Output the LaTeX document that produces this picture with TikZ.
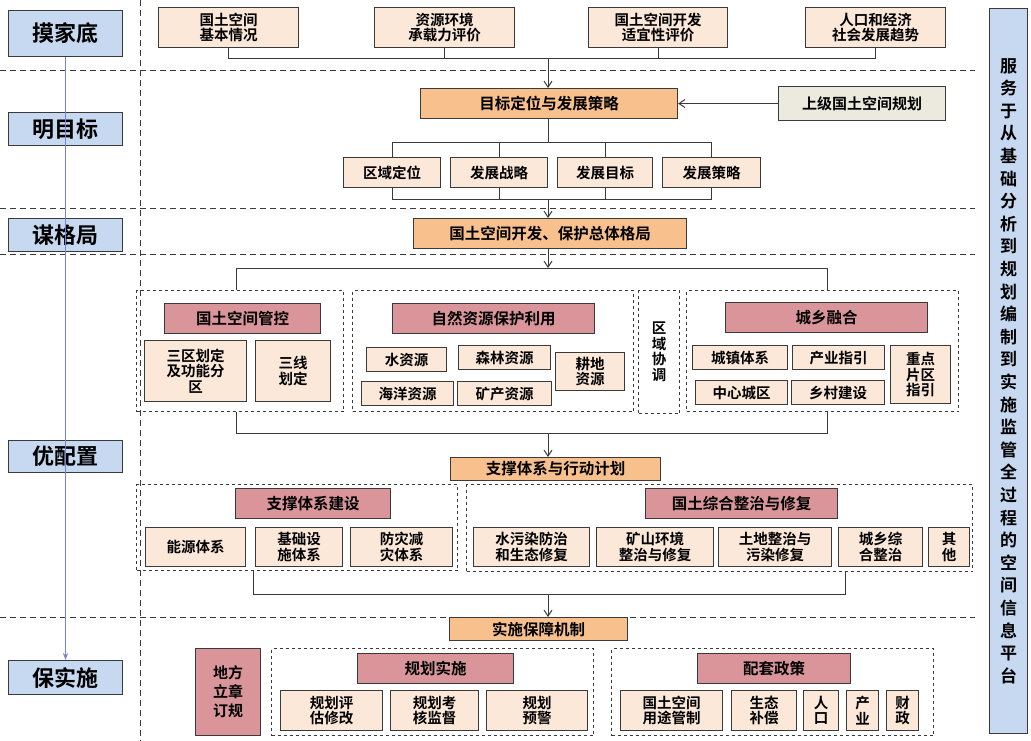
\documentclass[tikz,border=0pt]{standalone}
\usepackage{fontspec}
\setmainfont{Noto Sans CJK SC}[BoldFont={Noto Sans CJK SC Bold}]
\usetikzlibrary{arrows.meta}
\definecolor{lblue}{HTML}{C6D9F1}
\definecolor{cream}{HTML}{FCE8D8}
\definecolor{orng}{HTML}{F8C08C}
\definecolor{pink}{HTML}{D9959A}
\definecolor{grayg}{HTML}{ECEADF}
\definecolor{edge}{HTML}{3A3A3A}
\newcommand\bx[7]{\node[#1,anchor=north west,minimum width={(#5-#3)*1pt},minimum height={(#6-#4)*1pt}] (#2) at (#3,#4) {#7};}
\begin{document}
\begin{tikzpicture}[x=1pt,y=-1pt,
  base/.style={draw=edge,line width=1.1pt,inner sep=0pt,align=center,font=\fontsize{14.5}{15.5}\selectfont\bfseries},
  lbl/.style={base,fill=lblue,font=\fontsize{22}{24}\selectfont\bfseries},
  cr/.style={base,fill=cream},
  og/.style={base,fill=orng,font=\fontsize{15.5}{16}\selectfont\bfseries},
  pk/.style={base,fill=pink,font=\fontsize{15.5}{16}\selectfont\bfseries},
  grp/.style={draw=edge,dashed,line width=1pt,inner sep=0pt},
  sep/.style={draw=edge,dash pattern=on 6pt off 4pt,line width=1pt},
  ln/.style={draw=edge,line width=1pt},
  arr/.style={ln,-{Straight Barb[length=6pt,width=8pt]}}]
\useasboundingbox (0,0) rectangle (1031,741);
\fill[white] (0,0) rectangle (1031,741);
% separators
\draw[sep] (140,0) -- (140,741);
\foreach \yy in {71,208,254,617} \draw[sep] (0,\yy) -- (975,\yy);
% left labels
\bx{lbl}{L1}{8}{10}{122}{56}{摸家底}
\bx{lbl}{L2}{8}{112}{122}{145}{明目标}
\bx{lbl}{L3}{8}{218}{122}{251}{谋格局}
\bx{lbl}{L4}{8}{440}{122}{472}{优配置}
\bx{lbl}{L5}{8}{660}{122}{694}{保实施}
\draw[draw=lblue!60!blue!70!gray,line width=1.2pt,-{Stealth[length=7pt]}] (L1.south) -- (L5.north);
% right box
\bx{lbl,font=\fontsize{17}{22.6}\selectfont\bfseries}{R}{989}{8}{1027}{733}{服\\务\\于\\从\\基\\础\\分\\析\\到\\规\\划\\编\\制\\到\\实\\施\\监\\管\\全\\过\\程\\的\\空\\间\\信\\息\\平\\台}
% top row
\bx{cr}{t1}{158}{7}{298}{47}{国土空间\\基本情况}
\bx{cr}{t2}{374}{7}{514}{47}{资源环境\\承载力评价}
\bx{cr}{t3}{588}{7}{727}{47}{国土空间开发\\适宜性评价}
\bx{cr}{t4}{805}{7}{945}{47}{人口和经济\\社会发展趋势}
\bx{og}{goal}{420}{88}{677}{118}{目标定位与发展策略}
\bx{base,fill=grayg,font=\fontsize{15}{16}\selectfont\bfseries}{up}{778}{86}{945}{120}{上级国土空间规划}
\coordinate (b1) at (548,59);
\draw[ln] (t1.south) |- (t4.south |- b1) -- (t4.south);
\draw[ln] (t2.south) -- (t2.south |- b1);
\draw[ln] (t3.south) -- (t3.south |- b1);
\draw[arr] (b1) -- (goal.north -| b1);
\draw[arr] (up.west) -- (goal.east);
% strategy row
\bx{cr}{s1}{343}{157}{440}{187}{区域定位}
\bx{cr}{s2}{450}{157}{547}{187}{发展战略}
\bx{cr}{s3}{557}{157}{652}{187}{发展目标}
\bx{cr}{s4}{662}{157}{760}{187}{发展策略}
\coordinate (b2) at (548,143);
\coordinate (b3) at (548,199);
\draw[ln] (goal.south -| b2) -- (b2);
\draw[ln] (s1.north) |- (s4.north |- b2) -- (s4.north);
\draw[ln] (s2.north) -- (s2.north |- b2);
\draw[ln] (s3.north) -- (s3.north |- b2);
\draw[ln] (s1.south) |- (s4.south |- b3) -- (s4.south);
\draw[ln] (s2.south) -- (s2.south |- b3);
\draw[ln] (s3.south) -- (s3.south |- b3);
\bx{og}{lay}{413}{218}{686}{248}{国土空间开发、保护总体格局}
\draw[arr] (b3) -- (lay.north -| b3);
% groups row 1
\bx{grp}{G1}{136}{290}{343}{411}{}
\bx{grp}{G2}{352}{290}{633}{411}{}
\bx{grp,base,dashed,line width=1pt}{G3}{638}{290}{679}{413}{区\\域\\协\\调}
\bx{grp}{G4}{686}{290}{958}{411}{}
\bx{pk}{h1}{164}{303}{320}{333}{国土空间管控}
\bx{cr}{a1}{144}{340}{246}{401}{三区划定\\及功能分\\区}
\bx{cr}{a2}{255}{340}{330}{401}{三线\\划定}
\bx{pk}{h2}{392}{303}{594}{333}{自然资源保护利用}
\bx{cr}{n1}{366}{347}{446}{371}{水资源}
\bx{cr}{n2}{458}{345}{550}{369}{森林资源}
\bx{cr}{n3}{555}{352}{624}{390}{耕地\\资源}
\bx{cr}{n4}{361}{381}{453}{405}{海洋资源}
\bx{cr}{n5}{457}{381}{551}{405}{矿产资源}
\bx{pk}{h4}{725}{302}{927}{332}{城乡融合}
\bx{cr}{c1}{692}{345}{787}{369}{城镇体系}
\bx{cr}{c2}{792}{345}{884}{369}{产业指引}
\bx{cr}{c3}{890}{345}{950}{403}{重点\\片区\\指引}
\bx{cr}{c4}{695}{380}{787}{404}{中心城区}
\bx{cr}{c5}{791}{380}{884}{404}{乡村建设}
\coordinate (b4) at (548,268);
\coordinate (b5) at (548,433);
\coordinate (xl) at (236,0);
\coordinate (xr) at (827,0);
\draw[ln] (G1.north -| xl) |- (xr |- b4) -- (G4.north -| xr);
\draw[ln] (G1.south -| xl) |- (xr |- b5) -- (G4.south -| xr);
\draw[arr] (lay.south -| b4) -- (b4);
\bx{og}{sup}{450}{457}{660}{480}{支撑体系与行动计划}
\draw[arr] (b5) -- (sup.north -| b5);
% groups row 2
\bx{grp}{G5}{136}{484}{457}{570}{}
\bx{grp}{G6}{466}{484}{972}{571}{}
\bx{pk}{h5}{235}{488}{390}{518}{支撑体系建设}
\bx{cr}{e1}{145}{527}{245}{566}{能源体系}
\bx{cr}{e2}{255}{527}{342}{566}{基础设\\施体系}
\bx{cr}{e3}{350}{527}{452}{566}{防灾减\\灾体系}
\bx{pk}{h6}{645}{488}{837}{518}{国土综合整治与修复}
\bx{cr}{r1}{473}{527}{589}{566}{水污染防治\\和生态修复}
\bx{cr}{r2}{596}{527}{713}{566}{矿山环境\\整治与修复}
\bx{cr}{r3}{718}{527}{831}{566}{土地整治与\\污染修复}
\bx{cr}{r4}{838}{527}{922}{566}{城乡综\\合整治}
\bx{cr}{r5}{928}{527}{969}{566}{其\\他}
\coordinate (b6) at (548,594);
\coordinate (xl2) at (253,0);
\coordinate (xr2) at (845,0);
\draw[ln] (G5.south -| xl2) |- (xr2 |- b6) -- (G6.south -| xr2);
\bx{og}{imp}{449}{617}{627}{640}{实施保障机制}
\draw[arr] (b6) -- (imp.north -| b6);
% bottom
\bx{pk,font=\fontsize{15}{19}\selectfont\bfseries}{law}{195}{648}{260}{735}{地方\\立章\\订规}
\bx{grp}{G7}{271}{648}{593}{735}{}
\bx{grp}{G8}{611}{648}{933}{735}{}
\bx{pk}{h7}{357}{653}{513}{683}{规划实施}
\bx{cr}{p1}{280}{690}{382}{730}{规划评\\估修改}
\bx{cr}{p2}{390}{690}{478}{730}{规划考\\核监督}
\bx{cr}{p3}{486}{690}{587}{730}{规划\\预警}
\bx{pk}{h8}{697}{653}{850}{683}{配套政策}
\bx{cr}{q1}{620}{690}{722}{730}{国土空间\\用途管制}
\bx{cr}{q2}{731}{690}{796}{730}{生态\\补偿}
\bx{cr}{q3}{803}{690}{838}{730}{人\\口}
\bx{cr}{q4}{846}{690}{878}{730}{产\\业}
\bx{cr}{q5}{886}{690}{918}{730}{财\\政}
\end{tikzpicture}
\end{document}
